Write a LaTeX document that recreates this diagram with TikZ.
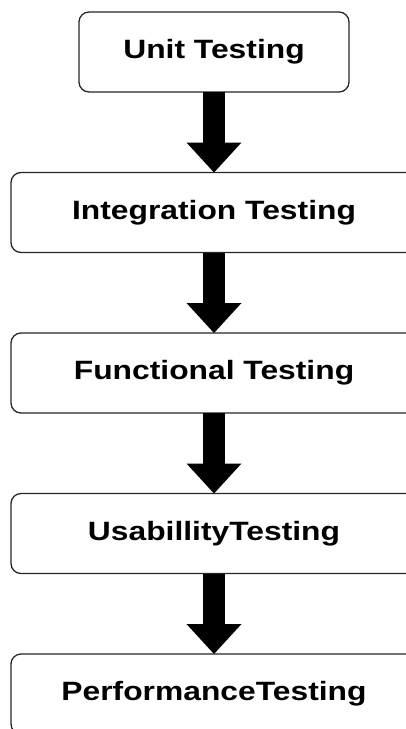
\documentclass[tikz,border=0pt]{standalone}
\usepackage{fontspec}
\newfontfamily\boxfont[FakeStretch=1.2]{Liberation Sans}
\usetikzlibrary{positioning, arrows.meta}

\begin{document}
\begin{tikzpicture}[x=1pt, y=1pt, node distance=80.5pt,
    stage/.style={draw=black!85, line width=1.3pt, rounded corners=10pt,
      minimum height=80pt, outer sep=0pt, inner sep=0pt,
      font=\boxfont\bfseries\fontsize{26.5}{30}\selectfont},
    flow/.style={line width=22pt,
      -{Triangle[width=55pt, length=30pt, line width=0pt]}}]
  \useasboundingbox (0,0) rectangle (406,-729);
  \node[stage, minimum width=270pt] (unit) at (214,-52) {Unit Testing};
  \node[stage, minimum width=406pt, below=of unit] (integ) {Integration Testing};
  \node[stage, minimum width=406pt, below=of integ] (func) {Functional Testing};
  \node[stage, minimum width=406pt, below=of func] (usab) {UsabillityTesting};
  \node[stage, minimum width=406pt, below=of usab] (perf) {PerformanceTesting};
  % arrows between stages
  \draw[flow] (unit) -- (integ);
  \draw[flow] (integ) -- (func);
  \draw[flow] (func) -- (usab);
  \draw[flow] (usab) -- (perf);
\end{tikzpicture}
\end{document}
